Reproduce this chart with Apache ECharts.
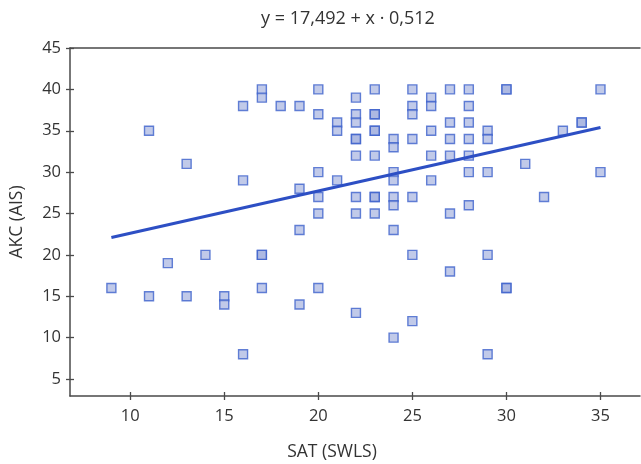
<!DOCTYPE html>
<html>
<head>
<meta charset="utf-8">
<script src="https://cdn.jsdelivr.net/npm/echarts@6/dist/echarts.min.js"></script>
<style>html,body{margin:0;padding:0;background:#fff}#c{width:641px;height:464px}</style>
</head>
<body>
<div id="c"></div>
<script>
var satValues = [9,11,11,12,13,13,14,15,15,16,16,16,17,17,17,17,17,18,19,19,19,19,
  20,20,20,20,20,20,21,21,21,22,22,22,22,22,22,22,22,22,
  23,23,23,23,23,23,23,23,23,24,24,24,24,24,24,24,24,
  25,25,25,25,25,25,25,26,26,26,26,26,27,27,27,27,27,27,
  28,28,28,28,28,28,28,29,29,29,29,29,30,30,30,30,31,32,33,34,34,35,35];
var akcValues = [16,35,15,19,31,15,20,15,14,38,29,8,40,39,20,20,16,38,38,28,23,14,
  40,37,30,27,25,16,36,35,29,39,37,36,34,34,32,27,25,13,
  40,37,37,35,35,32,27,27,25,34,33,30,29,27,26,23,10,
  40,38,37,34,27,20,12,39,38,35,32,29,40,36,34,32,25,18,
  40,38,36,34,32,30,26,35,34,30,20,8,40,40,16,16,31,27,35,36,36,40,30];
var fitX = [9, 35];
var fitY = [22.1, 35.4];
var xTicks = [10,15,20,25,30,35];
var yTicks = [5,10,15,20,25,30,35,40,45];
var titleText = 'y = 17,492 + x · 0,512';
var xName = 'SAT (SWLS)';
var yName = 'AKC (AIS)';

var points = satValues.map(function(v,i){return [v, akcValues[i]];});
var fitLine = fitX.map(function(v,i){return [v, fitY[i]];});

var FONT = '"Open Sans", "Noto Sans", sans-serif';
var axisCol = '#4a4a4a';
var txtCol = '#333';
var chart = echarts.init(document.getElementById('c'), null, {renderer:'canvas'});

function xAxisCfg(inside, show) {
  return {
    type:'value', min:6.8, max:37.1, position:'bottom',
    axisLine:{show:show, lineStyle:{color:axisCol, width:1.5}},
    axisTick:{show:true, inside:inside, length:4, customValues:xTicks, lineStyle:{color:axisCol, width:1.3}},
    axisLabel:{show:!inside, customValues:xTicks, margin:12, color:txtCol, fontSize:16.5, fontFamily:FONT},
    splitLine:{show:false}
  };
}
function yAxisCfg(inside, show) {
  return {
    type:'value', min:2.95, max:45, position:'left',
    axisLine:{show:show, lineStyle:{color:axisCol, width:1.5}},
    axisTick:{show:true, inside:inside, length:4, customValues:yTicks, lineStyle:{color:axisCol, width:1.3}},
    axisLabel:{show:!inside, customValues:yTicks, margin:9, color:txtCol, fontSize:16.5, fontFamily:FONT},
    splitLine:{show:false},
    name: inside ? '' : yName,
    nameLocation:'middle', nameGap:44, nameRotate:90,
    nameTextStyle:{color:txtCol, fontSize:17.5, fontFamily:FONT}
  };
}

chart.setOption({
  animation:false,
  backgroundColor:'#fff',
  grid:{left:70, right:1, top:48, bottom:68, containLabel:false},
  xAxis:[xAxisCfg(false,true), xAxisCfg(true,false),
    {type:'value', min:6.8, max:37.1, position:'top',
     axisLine:{show:true, lineStyle:{color:axisCol, width:1.5}},
     axisTick:{show:false}, axisLabel:{show:false}, splitLine:{show:false}}],
  yAxis:[yAxisCfg(false,true), yAxisCfg(true,false)],
  graphic:[
    {type:'text', x:348, y:19, style:{text:titleText, textAlign:'center', textVerticalAlign:'middle', fill:txtCol, font:'18px ' + FONT}},
    {type:'text', x:332, y:452, style:{text:xName, textAlign:'center', textVerticalAlign:'middle', fill:txtCol, font:'17.5px ' + FONT}}
  ],
  series:[
    {type:'scatter', xAxisIndex:0, yAxisIndex:0, data:points, symbol:'rect', symbolSize:9,
     itemStyle:{color:'rgba(164,178,223,0.85)', borderColor:'#3d62cc', borderWidth:1.4}, z:2},
    {type:'line', xAxisIndex:0, yAxisIndex:0, data:fitLine, showSymbol:false, symbol:'none',
     lineStyle:{color:'#2d4fc4', width:3}, z:3}
  ]
});
</script>
</body>
</html>
